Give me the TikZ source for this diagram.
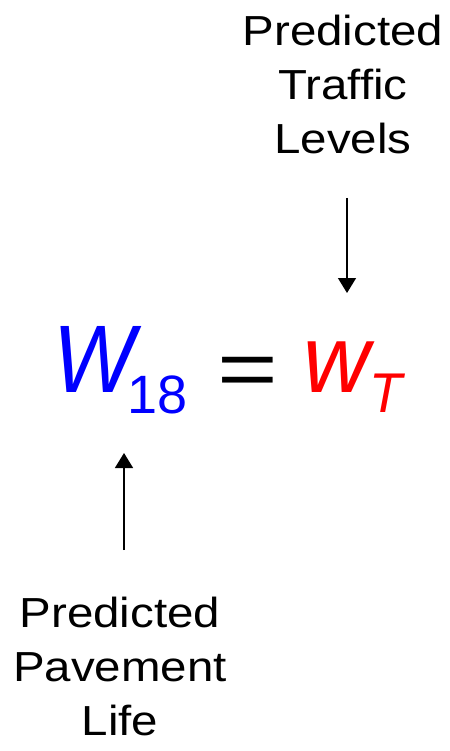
\documentclass[tikz,border=0pt]{standalone}
\usepackage{fontspec}
\setmainfont{Liberation Sans}
\newfontfamily\labelfont[FakeStretch=1.13]{Liberation Sans}
\newfontfamily\eqfont[FakeStretch=1.3]{Liberation Sans}
\newfontfamily\bigwfont[FakeStretch=0.9]{Liberation Sans}
\newfontfamily\smallwfont[FakeStretch=0.96]{Liberation Sans}
\usetikzlibrary{arrows.meta}

\begin{document}
\begin{tikzpicture}[
        x=1pt, y=-1pt,
        % --- Text styles ---
        caption/.style={
            align=center, inner sep=0pt,
            font=\labelfont\fontsize{42}{54}\selectfont
        },
        term/.style={anchor=base west, inner sep=0pt},
        relation/.style={anchor=base, inner sep=0pt, font=\eqfont\fontsize{80}{80}\selectfont},
        % --- Arrow style ---
        pointer/.style={
            line width=1.4pt,
            -{Triangle[width=18pt, length=15pt]}
        },
    ]

    % ===== Canvas =====
    \useasboundingbox (0,0) rectangle (449,751);

    % ===== Equation =====
    \node[term, text=blue, font=\bigwfont\fontsize{96}{96}\selectfont] (bigw) at (53, 392)
        {\itshape W\kern-7pt\raisebox{-21pt}{\rmfamily\upshape\fontsize{54}{54}\selectfont 18}};
    \node[relation] (equals) at (248, 396.5) {=};
    \node[term, text=red, font=\smallwfont\fontsize{96}{96}\selectfont] (smallw) at (303, 392)
        {\itshape w\kern0pt\raisebox{-20pt}{\fontsize{56}{56}\selectfont T}};

    % ===== Captions =====
    \node[caption] (traffic)  at (343, 84)  {Predicted\\Traffic\\Levels};
    \node[caption] (pavement) at (120, 666) {Predicted\\Pavement\\Life};

    % ===== Arrows =====
    \coordinate (traffictail) at (347, 198);
    \coordinate (traffichead) at (347, 293);
    \coordinate (pavementtail) at (124, 550);
    \coordinate (pavementhead) at (124, 453);
    \draw[pointer] (traffictail) -- (traffichead);
    \draw[pointer] (pavementtail) -- (pavementhead);

\end{tikzpicture}
\end{document}
